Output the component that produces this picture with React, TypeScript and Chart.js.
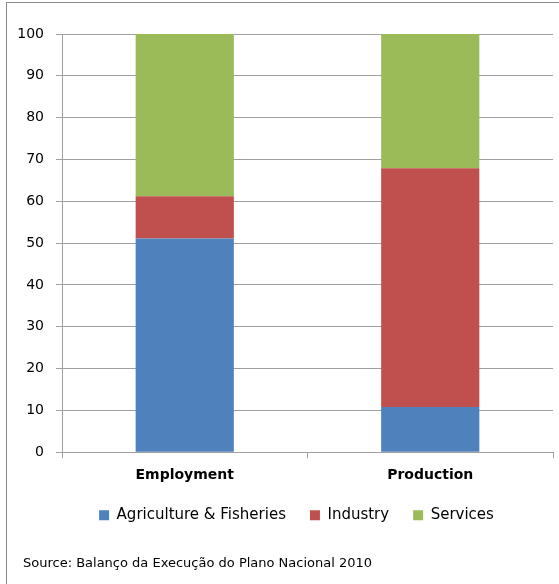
import React, { useEffect, useRef } from "react";
import { Chart, registerables } from "chart.js";

Chart.register(...registerables);

const categories = ["Employment", "Production"];
const agriculture = [51.1, 10.8];
const industry = [10.1, 57.1];
const services = [38.8, 32.1];
const yTicks = [0, 10, 20, 30, 40, 50, 60, 70, 80, 90, 100];
const sourceText = "Source: Balanço da Execução do Plano Nacional 2010";

const FONT = "'DejaVu Sans', sans-serif";

const frame = {
  id: "frame",
  beforeDraw(chart: any) {
    const ctx = chart.ctx;
    ctx.save();
    ctx.fillStyle = "#ffffff";
    ctx.fillRect(0, 0, chart.width, chart.height);
    ctx.strokeStyle = "#8c8c8c";
    ctx.lineWidth = 1;
    ctx.beginPath();
    ctx.moveTo(6, 2.5);
    ctx.lineTo(chart.width, 2.5);
    ctx.moveTo(6.5, 2);
    ctx.lineTo(6.5, chart.height);
    ctx.stroke();
    ctx.restore();
  },
  afterLayout(chart: any) {
    const l = chart.legend;
    if (l) {
      l.left += 17;
      l.right += 17;
    }
    const t = chart.titleBlock;
    if (t) {
      t.left += 17;
      t.right += 17;
    }
  },
};

export default function App() {
  const ref = useRef<HTMLCanvasElement>(null);
  useEffect(() => {
    if (!ref.current) return;
    const chart = new Chart(ref.current, {
      type: "bar",
      data: {
        labels: categories,
        datasets: [
          { label: "Agriculture & Fisheries", data: agriculture, backgroundColor: "#4f81bd" },
          { label: "Industry", data: industry, backgroundColor: "#c0504d" },
          { label: "Services", data: services, backgroundColor: "#9bbb59" },
        ],
      },
      options: {
        animation: false,
        responsive: false,
        devicePixelRatio: 1,
        layout: { padding: { left: 6, right: 6, top: 34, bottom: 13 } },
        datasets: { bar: { categoryPercentage: 1, barPercentage: 0.4 } },
        scales: {
          x: {
            stacked: true,
            afterFit(scale: any) {
              scale.height = 31.5;
            },
            grid: { drawOnChartArea: false, drawTicks: true, tickLength: 6, color: "#a0a0a0", offset: true },
            border: { color: "#a0a0a0" },
            ticks: { color: "#000", padding: 9, font: { family: FONT, size: 14, weight: "bold" } },
          },
          y: {
            stacked: true,
            min: 0,
            max: 100,
            afterFit(scale: any) {
              scale.width = 56;
            },
            afterBuildTicks(scale: any) {
              scale.ticks = yTicks.map((v) => ({ value: v }));
            },
            grid: { color: "#a0a0a0", tickLength: 6 },
            border: { color: "#a0a0a0" },
            ticks: { color: "#000", padding: 12, font: { family: FONT, size: 14 } },
          },
        },
        plugins: {
          legend: {
            position: "bottom",
            labels: {
              color: "#000",
              boxWidth: 10,
              boxHeight: 10,
              padding: 24,
              font: { family: FONT, size: 15 },
            },
          },
          title: {
            display: true,
            position: "bottom",
            align: "start",
            text: sourceText,
            color: "#000",
            padding: { top: 22.7, bottom: 0 },
            font: { family: FONT, size: 13, weight: "normal" },
          },
          tooltip: { enabled: false },
        },
      },
      plugins: [frame],
    } as any);
    return () => chart.destroy();
  }, []);
  return (
    <div style={{ position: "absolute", left: 0, top: 0, width: 559, height: 584, background: "#fff" }}>
      <canvas ref={ref} width={559} height={584} style={{ display: "block", width: 559, height: 584 }} />
    </div>
  );
}
